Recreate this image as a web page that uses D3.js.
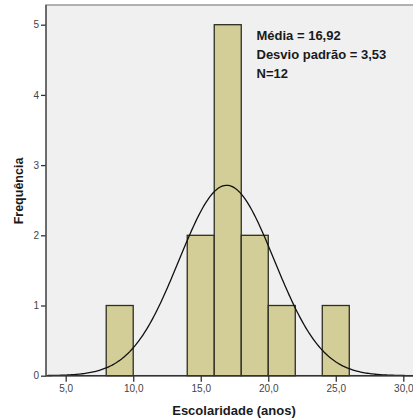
<!DOCTYPE html>
<html><head><meta charset="utf-8">
<script src="https://cdn.jsdelivr.net/npm/d3@7"></script>
<style>body{margin:0;background:#fff}svg{display:block}</style>
</head><body>
<svg id="c" width="413" height="419"></svg>
<script>
const binStarts = [8, 14, 16, 18, 20, 24];
const binWidth = 2;
const counts = [1, 2, 5, 2, 1, 1];
const xTicks = [5, 10, 15, 20, 25, 30];
const yTicks = [0, 1, 2, 3, 4, 5];
const stats = { mean: 16.92, sd: 3.53, n: 12 };
const statLabels = ["Média = 16,92", "Desvio padrão = 3,53", "N=12"];
const xTitle = "Escolaridade (anos)";
const yTitle = "Frequência";

(function () {
const svg = d3.select("#c");
const mLeft = 46, mTop = 5, mBottom = 375.7, mRight = 425;
const x = d3.scaleLinear().domain([5, 30]).range([65.7, 403.3]);
const y = d3.scaleLinear().domain([0, 5]).range([mBottom, 24.7]);

svg.append("rect").attr("x", mLeft).attr("y", mTop).attr("width", mRight - mLeft).attr("height", mBottom - mTop)
  .attr("fill", "#f0f0f0").attr("stroke", "#999").attr("stroke-width", 1.5);

svg.selectAll("rect.bar").data(binStarts).join("rect").attr("class", "bar")
  .attr("x", d => x(d)).attr("width", d => x(d + binWidth) - x(d))
  .attr("y", (d, i) => y(counts[i])).attr("height", (d, i) => y(0) - y(counts[i]))
  .attr("fill", "#d3ce98").attr("stroke", "#2e2e22").attr("stroke-width", 1.3);

const xs = d3.range(x.invert(mLeft), x.invert(mRight), 0.1);
const scaleF = stats.n * binWidth / (stats.sd * Math.sqrt(2 * Math.PI));
const line = d3.line().x(d => x(d)).y(d => y(scaleF * Math.exp(-0.5 * ((d - stats.mean) / stats.sd) ** 2)));
svg.append("path").datum(xs).attr("d", line).attr("fill", "none").attr("stroke", "#111").attr("stroke-width", 1.3);

const xAxis = svg.append("g").attr("transform", `translate(0,${mBottom})`)
  .call(d3.axisBottom(x).tickValues(xTicks).tickSize(6).tickPadding(3).tickFormat(d => d.toFixed(1).replace(".", ",")));
const yAxis = svg.append("g").attr("transform", `translate(${mLeft},0)`)
  .call(d3.axisLeft(y).tickValues(yTicks).tickSize(5).tickPadding(2).tickFormat(d3.format("d")));
[xAxis, yAxis].forEach(g => {
  g.select(".domain").remove();
  g.selectAll("line").attr("stroke", "#333").attr("stroke-width", 1.3);
  g.selectAll("text").attr("font-family", "Liberation Sans, Arial, sans-serif").attr("font-size", 10).attr("fill", "#444");
});
svg.append("line").attr("x1", mLeft).attr("x2", mRight).attr("y1", mBottom).attr("y2", mBottom).attr("stroke", "#333").attr("stroke-width", 1.5);
svg.append("line").attr("x1", mLeft).attr("x2", mLeft).attr("y1", mTop).attr("y2", mBottom).attr("stroke", "#555").attr("stroke-width", 1.5);

svg.selectAll("text.stat").data(statLabels).join("text").attr("class", "stat")
  .attr("x", 256.5).attr("y", (d, i) => 40 + i * 19)
  .attr("font-family", "Liberation Sans, Arial, sans-serif").attr("font-weight", "bold").attr("font-size", 13)
  .attr("fill", "#1a1a1a").text(d => d);

svg.append("text").attr("x", 234).attr("y", 415).attr("text-anchor", "middle")
  .attr("font-family", "Liberation Sans, Arial, sans-serif").attr("font-weight", "bold").attr("font-size", 13)
  .attr("fill", "#1a1a1a").text(xTitle);
svg.append("text").attr("transform", "translate(23,191) rotate(-90)").attr("text-anchor", "middle")
  .attr("font-family", "Liberation Sans, Arial, sans-serif").attr("font-weight", "bold").attr("font-size", 12.5)
  .attr("fill", "#1a1a1a").text(yTitle);
})();
</script>
</body></html>
